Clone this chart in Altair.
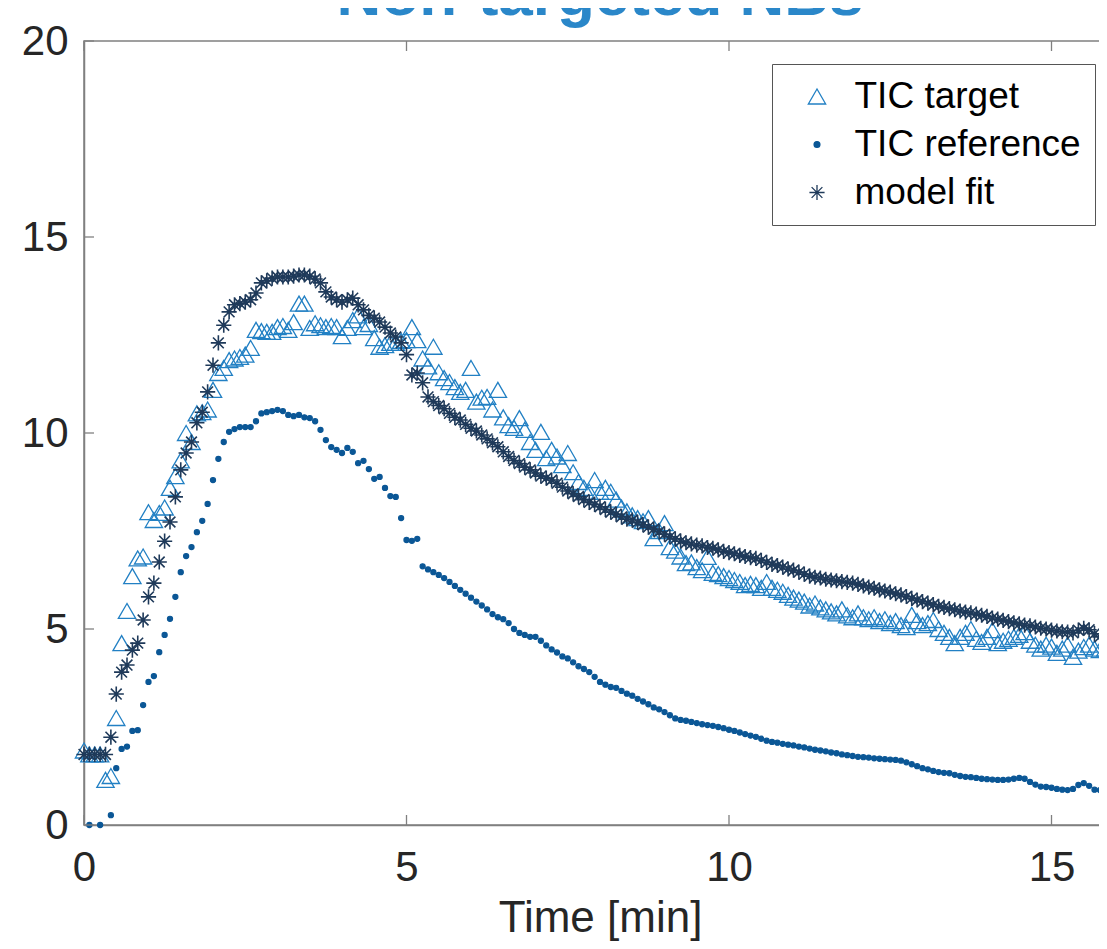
import altair as alt
import pandas as pd

# ---------------- data ----------------
DT = 1 / 12  # minutes between samples (5 s)

series_names = ["TIC target", "TIC reference", "model fit"]

target = [
    1.9, 1.8, 1.8, 1.8, 1.15, 1.25, 2.73, 4.64, 5.46, 6.35,
    6.8, 6.85, 7.98, 7.78, 7.96, 8.1, 8.6, 8.9, 9.3, 10.0,
    9.77, 10.5, 10.53, 10.6, 11.1, 11.53, 11.66, 11.86, 11.9, 11.94,
    12.0, 12.17, 12.63, 12.6, 12.58, 12.58, 12.7, 12.73, 12.63, 12.83,
    13.3, 13.3, 12.68, 12.8, 12.75, 12.7, 12.73, 12.7, 12.47, 12.68,
    12.88, 13.0, 12.7, 12.78, 12.42, 12.2, 12.24, 12.3, 12.3, 12.35,
    12.37, 12.7, 12.37, 11.9, 11.7, 12.2, 11.55, 11.4, 11.3, 11.17,
    11.05, 11.1, 11.66, 10.8, 10.9, 10.92, 10.6, 11.1, 10.4, 10.2,
    10.13, 10.38, 10.08, 9.77, 9.57, 10.03, 9.36, 9.57, 9.4, 9.18,
    9.49, 9.0, 8.75, 8.6, 8.5, 8.8, 8.5, 8.6, 8.5, 8.3,
    8.1, 8.0, 7.9, 7.83, 7.75, 7.83, 7.32, 7.5, 7.7, 7.09,
    7.0, 6.85, 6.68, 6.7, 6.58, 6.5, 6.84, 6.43, 6.4, 6.35,
    6.3, 6.25, 6.2, 6.12, 6.15, 6.12, 6.05, 6.2, 6.05, 6.0,
    5.95, 5.87, 5.8, 5.75, 5.7, 5.6, 5.65, 5.55, 5.5, 5.45,
    5.4, 5.5, 5.35, 5.3, 5.4, 5.3, 5.25, 5.3, 5.2, 5.25,
    5.15, 5.2, 5.1, 5.05, 5.36, 5.2, 5.1, 5.15, 5.23, 5.0,
    4.9, 4.8, 4.64, 4.8, 4.9, 5.0, 4.75, 4.67, 4.8, 4.97,
    4.64, 4.7, 4.75, 4.8, 4.85, 4.92, 4.7, 4.6, 4.5, 4.6,
    4.55, 4.39, 4.5, 4.6, 4.29, 4.45, 4.54, 4.6, 4.5, 4.46,
    4.5, 4.45, 4.5,
]

reference = [
    None, 0.0, None, 0.0, None, 0.25, 1.45, 1.94, 2.0, 2.4,
    2.42, 3.06, 3.65, 3.8, 4.41, 4.85, 5.26, 5.82, 6.45, 6.86,
    7.09, 7.47, 7.76, 8.19, 8.8, 9.34, 9.77, 10.03, 10.1, 10.15,
    10.15, 10.15, 10.3, 10.5, 10.53, 10.56, 10.59, 10.56, 10.46, 10.43,
    10.46, 10.4, 10.38, 10.3, 10.08, 9.82, 9.64, 9.57, 9.49, 9.62,
    9.52, 9.23, 9.29, 9.08, 8.83, 8.88, 8.6, 8.39, 8.37, 7.83,
    7.27, 7.25, 7.3, 6.6, 6.52, 6.45, 6.38, 6.3, 6.2, 6.1,
    6.0, 5.9, 5.8, 5.7, 5.6, 5.5, 5.38, 5.3, 5.25, 5.15,
    5.0, 4.9, 4.85, 4.8, 4.8, 4.7, 4.58, 4.48, 4.4, 4.3,
    4.25, 4.15, 4.05, 3.98, 3.9, 3.78, 3.65, 3.58, 3.52, 3.5,
    3.42, 3.35, 3.3, 3.22, 3.15, 3.08, 3.0, 2.95, 2.88, 2.8,
    2.72, 2.68, 2.66, 2.63, 2.6, 2.57, 2.55, 2.53, 2.5, 2.47,
    2.43, 2.4, 2.36, 2.32, 2.28, 2.25, 2.2, 2.15, 2.12, 2.1,
    2.07, 2.05, 2.03, 2.0, 1.98, 1.95, 1.92, 1.9, 1.88, 1.85,
    1.83, 1.8, 1.78, 1.76, 1.74, 1.73, 1.72, 1.7, 1.69, 1.68,
    1.67, 1.66, 1.64, 1.6, 1.55, 1.5, 1.45, 1.42, 1.38, 1.35,
    1.33, 1.32, 1.28, 1.25, 1.23, 1.22, 1.2, 1.18, 1.17, 1.16,
    1.15, 1.15, 1.16, 1.18, 1.2, 1.18, 1.1, 1.03, 0.98, 0.97,
    0.95, 0.92, 0.9, 0.89, 0.92, 1.02, 1.07, 1.0, 0.9, 0.89,
    0.9, 0.92, 0.9,
]

fit = [
    1.8, 1.8, 1.8, 1.8, 1.8, 2.24, 3.34, 3.9, 4.08, 4.46,
    4.64, 5.23, 5.82, 6.17, 6.71, 7.24, 7.73, 8.37, 9.06, 9.49,
    9.77, 10.26, 10.53, 11.05, 11.73, 12.3, 12.75, 13.09, 13.27, 13.3,
    13.34, 13.4, 13.57, 13.83, 13.88, 13.95, 13.98, 13.98, 13.98, 14.0,
    14.03, 14.03, 14.0, 13.93, 13.83, 13.6, 13.47, 13.4, 13.34, 13.4,
    13.44, 13.27, 13.14, 13.0, 12.93, 12.83, 12.7, 12.55, 12.45, 12.3,
    12.0, 11.48, 11.53, 11.28, 10.92, 10.8, 10.7, 10.62, 10.5, 10.4,
    10.33, 10.22, 10.12, 10.05, 9.95, 9.85, 9.75, 9.65, 9.52, 9.4,
    9.3, 9.22, 9.13, 9.06, 8.98, 8.9, 8.85, 8.8, 8.72, 8.62,
    8.52, 8.45, 8.38, 8.3, 8.23, 8.18, 8.12, 8.05, 7.98, 7.93,
    7.86, 7.8, 7.78, 7.72, 7.66, 7.6, 7.55, 7.48, 7.42, 7.35,
    7.3, 7.24, 7.2, 7.17, 7.14, 7.12, 7.08, 7.06, 7.02, 6.98,
    6.95, 6.92, 6.88, 6.85, 6.82, 6.8, 6.75, 6.7, 6.65, 6.62,
    6.58, 6.53, 6.5, 6.45, 6.4, 6.35, 6.32, 6.3, 6.27, 6.25,
    6.23, 6.21, 6.19, 6.17, 6.14, 6.1, 6.07, 6.04, 6.0, 5.97,
    5.94, 5.9, 5.87, 5.83, 5.78, 5.74, 5.7, 5.66, 5.62, 5.58,
    5.55, 5.52, 5.49, 5.46, 5.43, 5.41, 5.38, 5.35, 5.32, 5.28,
    5.25, 5.22, 5.19, 5.16, 5.13, 5.1, 5.08, 5.05, 5.02, 5.0,
    4.97, 4.95, 4.93, 4.92, 4.9, 4.97, 5.02, 4.98, 4.88, 4.8,
    4.75, 4.72, 4.7,
]

x_ticks = [0, 5, 10, 15]
y_ticks = [0, 5, 10, 15, 20]
title_text = "Non-targeted NBs"
x_title = "Time [min]"

# ---------------- styling ----------------
FONT = "Liberation Sans"
W, H = 1032, 784
C_T = "#2280C4"      # triangles
C_R = "#0B5796"      # dots
C_F = "#1F3A5A"      # asterisks
C_TITLE = "#2A87C9"
C_AX = "#808080"
ASTERISK = "M0,-1L0,1M-1,0L1,0M-0.71,-0.71L0.71,0.71M-0.71,0.71L0.71,-0.71"
marker_size = {"TIC target": 300, "TIC reference": 26, "model fit": 230}
marker_stroke = {"TIC target": 1.3, "TIC reference": 1.2, "model fit": 1.6}

rows = []
for name, vals in zip(series_names, [target, reference, fit]):
    for k, v in enumerate(vals):
        if v is None:
            continue
        rows.append({"time": k * DT, "value": v, "series": name,
                     "msize": marker_size[name], "msw": marker_stroke[name]})
df = pd.DataFrame(rows)

xscale = alt.Scale(domain=[0, 16], nice=False, zero=False)
yscale = alt.Scale(domain=[0, 20], nice=False, zero=False)

size_sig = ("datum.value === 'TIC reference' ? 34 : "
            "(datum.value === 'model fit' ? 230 : 300)")
leg = alt.Legend(title=None, symbolSize=alt.ExprRef(expr=size_sig))

points = alt.Chart(df).mark_point(opacity=1).encode(
    x=alt.X("time:Q", scale=xscale,
            axis=alt.Axis(values=x_ticks, format="d", title=x_title,
                          labelPadding=22, titlePadding=8)),
    y=alt.Y("value:Q", scale=yscale,
            axis=alt.Axis(values=y_ticks, format="d", title=None, labelPadding=16)),
    shape=alt.Shape("series:N",
                    scale=alt.Scale(domain=series_names,
                                    range=["triangle-up", "circle", ASTERISK]),
                    legend=leg),
    stroke=alt.Stroke("series:N",
                      scale=alt.Scale(domain=series_names, range=[C_T, C_R, C_F]),
                      legend=leg),
    fill=alt.Fill("series:N",
                  scale=alt.Scale(domain=series_names,
                                  range=["transparent", C_R, "transparent"]),
                  legend=leg),
    size=alt.Size("msize:Q", scale=None),
    strokeWidth=alt.StrokeWidth("msw:Q", scale=None),
)

xt = pd.DataFrame({"time": x_ticks})
yt = pd.DataFrame({"value": y_ticks})
rule_kw = dict(color=C_AX, strokeWidth=1.3)
tick_bottom = alt.Chart(xt).mark_rule(**rule_kw).encode(
    x="time:Q", y=alt.value(H), y2=alt.value(H - 10))
tick_top = alt.Chart(xt).mark_rule(**rule_kw).encode(
    x="time:Q", y=alt.value(0), y2=alt.value(10))
tick_left = alt.Chart(yt).mark_rule(**rule_kw).encode(
    y="value:Q", x=alt.value(0), x2=alt.value(10))
tick_right = alt.Chart(yt).mark_rule(**rule_kw).encode(
    y="value:Q", x=alt.value(W), x2=alt.value(W - 10))

title_layer = alt.Chart(pd.DataFrame({"label": [title_text]})).mark_text(
    font=FONT, fontSize=62, fontWeight="bold", color=C_TITLE,
    baseline="alphabetic", align="center",
).encode(x=alt.value(W / 2), y=alt.value(-26), text="label:N")

chart = alt.layer(
    points, tick_bottom, tick_top, tick_left, tick_right, title_layer
).properties(
    width=W, height=H,
    padding={"left": 76, "top": 33, "right": -17, "bottom": 116},
    autosize=alt.AutoSizeParams(type="none"),
    background="white",
).configure_view(
    stroke=C_AX, strokeWidth=1.5,
).configure_axis(
    domainColor=C_AX, domainWidth=1.5, ticks=False, tickSize=0, grid=False,
    labelFont=FONT, labelFontSize=42, labelColor="#262626",
    labelFlush=False, labelOverlap=False,
    titleFont=FONT, titleFontSize=44, titleFontWeight="normal", titleColor="#262626",
).configure_legend(
    orient="none", legendX=688, legendY=23,
    padding=14, strokeColor="#555555", fillColor="white",
    labelFont=FONT, labelFontSize=37, labelColor="#000000", labelLimit=500,
    labelOffset=19, symbolOffset=12.5, rowPadding=10,
    symbolStrokeWidth=1.3,
)

chart.save("out.html", embed_options={"renderer": "svg", "actions": False})
